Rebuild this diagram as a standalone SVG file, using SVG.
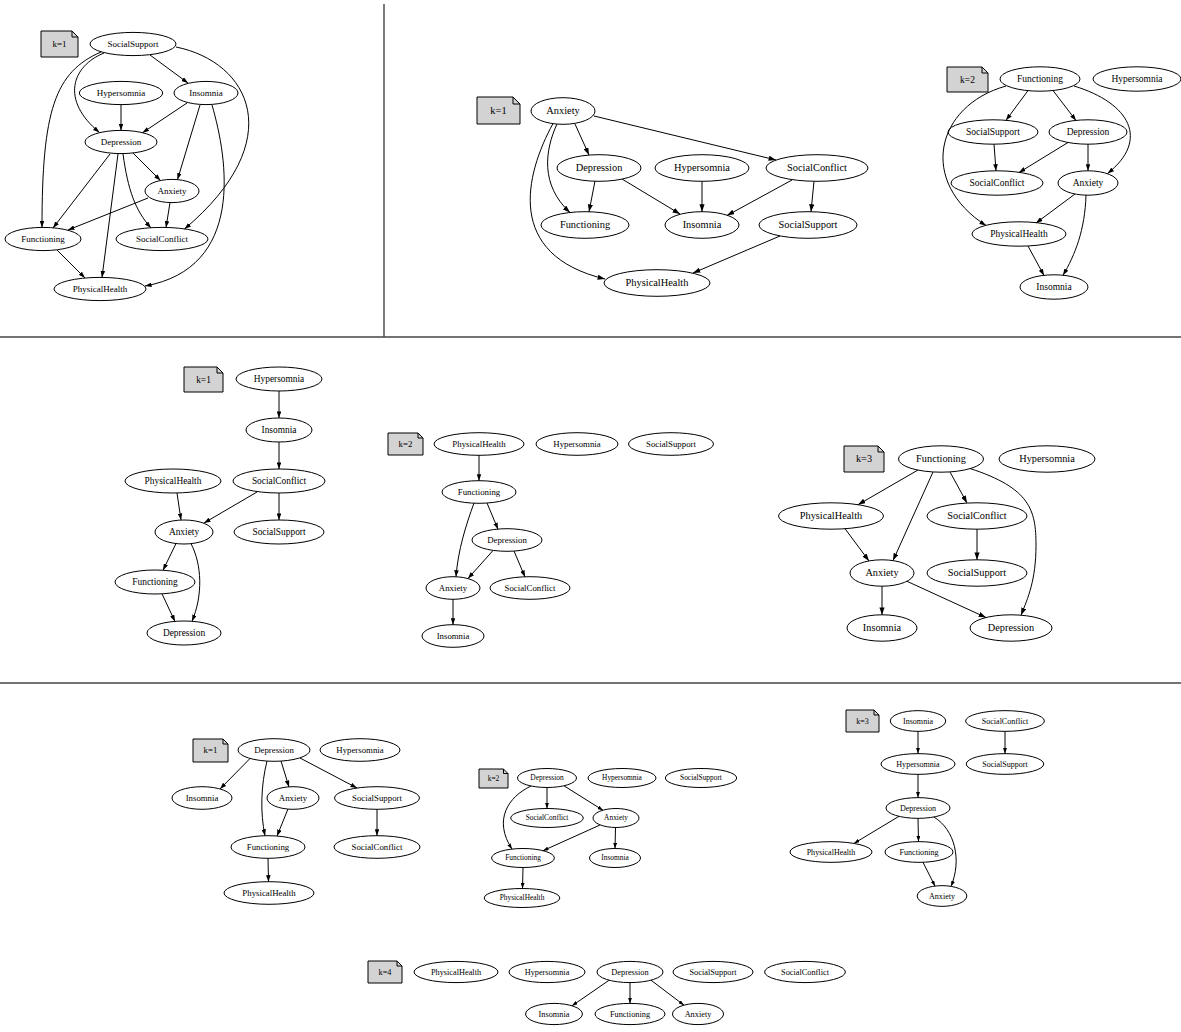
<svg xmlns="http://www.w3.org/2000/svg" width="1181" height="1032" viewBox="0 0 1181 1032">
<style>
text{font-family:"Liberation Serif","Times New Roman",serif;text-anchor:middle;fill:#000}
.n ellipse{fill:none;stroke:#000;stroke-width:1}
.e path{fill:none;stroke:#000;stroke-width:1}
.note polygon{fill:#d3d3d3;stroke:#000;stroke-width:1}
.note polyline{fill:none;stroke:#000;stroke-width:1}
.sep{stroke:#444;stroke-width:1.4}
.p1 text{font-size:9px}.p2 text{font-size:10.4px}.p3 text{font-size:9.5px}.p4 text{font-size:9.4px}.p5 text{font-size:8.8px}
.p6 text{font-size:10.3px}.p7 text{font-size:8.8px}.p8 text{font-size:7.4px}.p9 text{font-size:8.05px}.p10 text{font-size:8.3px}
.eL path{marker-end:url(#aL)}.eM path{marker-end:url(#aM)}.eS path{marker-end:url(#aS)}
</style>
<defs>
<marker id="aL" viewBox="0 0 10 7" markerWidth="7.4" markerHeight="5.2" refX="10" refY="3.5" orient="auto" markerUnits="userSpaceOnUse"><path d="M0,0 L10,3.5 L0,7 z" fill="#000"/></marker>
<marker id="aM" viewBox="0 0 10 7" markerWidth="6.6" markerHeight="4.6" refX="10" refY="3.5" orient="auto" markerUnits="userSpaceOnUse"><path d="M0,0 L10,3.5 L0,7 z" fill="#000"/></marker>
<marker id="aS" viewBox="0 0 10 7" markerWidth="5.6" markerHeight="3.9" refX="10" refY="3.5" orient="auto" markerUnits="userSpaceOnUse"><path d="M0,0 L10,3.5 L0,7 z" fill="#000"/></marker>
</defs>
<rect width="1181" height="1032" fill="#fff"/>
<g id="separators">
<line class="sep" x1="384" y1="4" x2="384" y2="337"/>
<line class="sep" x1="0" y1="337" x2="1181" y2="337"/>
<line class="sep" x1="0" y1="683" x2="1181" y2="683"/>
</g>

<!-- Panel 1 -->
<g id="panel1" class="p1">
<g id="p1-note" class="note"><polygon points="41,31 72,31 78,37 78,57 41,57"/><polyline points="72,31 72,37 78,37"/><text x="59.5" y="46.9">k=1</text></g>
<g id="p1-SocialSupport" class="n"><ellipse cx="133" cy="44" rx="43" ry="11.6"/><text x="133" y="46.9">SocialSupport</text></g>
<g id="p1-Hypersomnia" class="n"><ellipse cx="121" cy="93" rx="41.7" ry="11.6"/><text x="121" y="95.9">Hypersomnia</text></g>
<g id="p1-Insomnia" class="n"><ellipse cx="206" cy="93" rx="32" ry="11.6"/><text x="206" y="95.9">Insomnia</text></g>
<g id="p1-Depression" class="n"><ellipse cx="121" cy="142" rx="36" ry="11.6"/><text x="121" y="144.9">Depression</text></g>
<g id="p1-Anxiety" class="n"><ellipse cx="172" cy="191" rx="27" ry="11.6"/><text x="172" y="193.9">Anxiety</text></g>
<g id="p1-Functioning" class="n"><ellipse cx="43" cy="239" rx="38" ry="11.6"/><text x="43" y="241.9">Functioning</text></g>
<g id="p1-SocialConflict" class="n"><ellipse cx="162" cy="239" rx="46" ry="11.6"/><text x="162" y="241.9">SocialConflict</text></g>
<g id="p1-PhysicalHealth" class="n"><ellipse cx="100" cy="289" rx="46" ry="11.6"/><text x="100" y="291.9">PhysicalHealth</text></g>
<g id="p1-edges" class="e eM">
<path d="M150,55 L188,83"/>
<path d="M104,53 C72,66 60,100 99.5,132.5"/>
<path d="M101,52 C55,72 42,110 42,227.4"/>
<path d="M176,47 C250,62 290,140 184.5,229"/>
<path d="M121,104.6 L121,130.4"/>
<path d="M187,103 L142.5,132.7"/>
<path d="M200,105 L177.5,179.6"/>
<path d="M212,105 C228,160 245,268 145,286"/>
<path d="M133,153 L160.5,180.5"/>
<path d="M110,154 L53,228"/>
<path d="M118,154 L102,277.4"/>
<path d="M123,154 C128,190 135,210 151,228"/>
<path d="M148,198 L68,230"/>
<path d="M170,202.6 L166,227.6"/>
<path d="M57,250 L85,278"/>
</g>
</g>

<!-- Panel 2 -->
<g id="panel2" class="p2">
<g id="p2-note" class="note"><polygon points="477,97 513,97 520,104 520,124 477,124"/><polyline points="513,97 513,104 520,104"/><text x="498.5" y="113.8">k=1</text></g>
<g id="p2-Anxiety" class="n"><ellipse cx="563" cy="111" rx="32" ry="13.3"/><text x="563" y="114.3">Anxiety</text></g>
<g id="p2-Depression" class="n"><ellipse cx="599" cy="168" rx="42" ry="13.3"/><text x="599" y="171.3">Depression</text></g>
<g id="p2-Hypersomnia" class="n"><ellipse cx="702" cy="168" rx="47" ry="13.3"/><text x="702" y="171.3">Hypersomnia</text></g>
<g id="p2-SocialConflict" class="n"><ellipse cx="817" cy="168" rx="51" ry="13.3"/><text x="817" y="171.3">SocialConflict</text></g>
<g id="p2-Functioning" class="n"><ellipse cx="585" cy="225" rx="44" ry="13.3"/><text x="585" y="228.3">Functioning</text></g>
<g id="p2-Insomnia" class="n"><ellipse cx="702" cy="225" rx="37" ry="13.3"/><text x="702" y="228.3">Insomnia</text></g>
<g id="p2-SocialSupport" class="n"><ellipse cx="808" cy="225" rx="49" ry="13.3"/><text x="808" y="228.3">SocialSupport</text></g>
<g id="p2-PhysicalHealth" class="n"><ellipse cx="657" cy="283" rx="53" ry="13.3"/><text x="657" y="286.3">PhysicalHealth</text></g>
<g id="p2-edges" class="e eL">
<path d="M575,124 L589,155"/>
<path d="M594,116 L776,160"/>
<path d="M557,124 C545,150 540,185 570,212.5"/>
<path d="M553,123.5 C525,175 505,255 605,279"/>
<path d="M595,181 L589,211.8"/>
<path d="M622,179 L680,214"/>
<path d="M702,181.3 L702,211.7"/>
<path d="M792,180 L727,215.5"/>
<path d="M814,181.3 L811,211.7"/>
<path d="M780,236 L693,273"/>
</g>
</g>

<!-- Panel 3 -->
<g id="panel3" class="p3">
<g id="p3-note" class="note"><polygon points="947,67 982,67 988,73 988,92 947,92"/><polyline points="982,67 982,73 988,73"/><text x="967.5" y="82.5">k=2</text></g>
<g id="p3-Functioning" class="n"><ellipse cx="1040" cy="79" rx="40" ry="12.2"/><text x="1040" y="82">Functioning</text></g>
<g id="p3-Hypersomnia" class="n"><ellipse cx="1137" cy="79" rx="44" ry="12.2"/><text x="1137" y="82">Hypersomnia</text></g>
<g id="p3-SocialSupport" class="n"><ellipse cx="993" cy="132" rx="45" ry="12.2"/><text x="993" y="135">SocialSupport</text></g>
<g id="p3-Depression" class="n"><ellipse cx="1088" cy="132" rx="39" ry="12.2"/><text x="1088" y="135">Depression</text></g>
<g id="p3-SocialConflict" class="n"><ellipse cx="997" cy="183" rx="46" ry="12.2"/><text x="997" y="186">SocialConflict</text></g>
<g id="p3-Anxiety" class="n"><ellipse cx="1088" cy="183" rx="30" ry="12.2"/><text x="1088" y="186">Anxiety</text></g>
<g id="p3-PhysicalHealth" class="n"><ellipse cx="1019" cy="234" rx="47" ry="12.2"/><text x="1019" y="237">PhysicalHealth</text></g>
<g id="p3-Insomnia" class="n"><ellipse cx="1054" cy="287" rx="34" ry="12.2"/><text x="1054" y="290">Insomnia</text></g>
<g id="p3-edges" class="e eM">
<path d="M1028,90.6 L1006,120.3"/>
<path d="M1053,90.5 L1076,120.5"/>
<path d="M1006,86 C935,106 918,182 986,225.5"/>
<path d="M1074,86 C1130,103 1150,140 1107.5,173.5"/>
<path d="M994,144.2 L996,170.8"/>
<path d="M1068,142.5 L1019,172.5"/>
<path d="M1088,144.2 L1088,170.8"/>
<path d="M1075,194 L1036,223"/>
<path d="M1086,195.1 C1085,230 1075,255 1063,275.3"/>
<path d="M1028,246 L1044,275.5"/>
</g>
</g>

<!-- Panel 4 -->
<g id="panel4" class="p4">
<g id="p4-note" class="note"><polygon points="184,367 217,367 223,373 223,392 184,392"/><polyline points="217,367 217,373 223,373"/><text x="203.5" y="382.5">k=1</text></g>
<g id="p4-Hypersomnia" class="n"><ellipse cx="279" cy="379" rx="43" ry="12"/><text x="279" y="382">Hypersomnia</text></g>
<g id="p4-Insomnia" class="n"><ellipse cx="279" cy="430" rx="33" ry="12"/><text x="279" y="433">Insomnia</text></g>
<g id="p4-PhysicalHealth" class="n"><ellipse cx="173" cy="481" rx="48" ry="12"/><text x="173" y="484">PhysicalHealth</text></g>
<g id="p4-SocialConflict" class="n"><ellipse cx="279" cy="481" rx="46" ry="12"/><text x="279" y="484">SocialConflict</text></g>
<g id="p4-Anxiety" class="n"><ellipse cx="184" cy="532" rx="29" ry="12"/><text x="184" y="535">Anxiety</text></g>
<g id="p4-SocialSupport" class="n"><ellipse cx="279" cy="532" rx="45" ry="12"/><text x="279" y="535">SocialSupport</text></g>
<g id="p4-Functioning" class="n"><ellipse cx="155" cy="582" rx="40" ry="12"/><text x="155" y="585">Functioning</text></g>
<g id="p4-Depression" class="n"><ellipse cx="184" cy="633" rx="37" ry="12"/><text x="184" y="636">Depression</text></g>
<g id="p4-edges" class="e eM">
<path d="M279,391 L279,418"/>
<path d="M279,442 L279,469"/>
<path d="M177,493 L181,520"/>
<path d="M257,492 L204,523"/>
<path d="M279,493 L279,520"/>
<path d="M176,543.5 L163,570.3"/>
<path d="M191,543.6 C202,565 203,595 192,621.3"/>
<path d="M162,593.8 L175,621.6"/>
</g>
</g>

<!-- Panel 5 -->
<g id="panel5" class="p5">
<g id="p5-note" class="note"><polygon points="388,433 418,433 423,438 423,455 388,455"/><polyline points="418,433 418,438 423,438"/><text x="405.5" y="446.8">k=2</text></g>
<g id="p5-PhysicalHealth" class="n"><ellipse cx="479" cy="444" rx="45" ry="11.3"/><text x="479" y="446.8">PhysicalHealth</text></g>
<g id="p5-Hypersomnia" class="n"><ellipse cx="577" cy="444" rx="41" ry="11.3"/><text x="577" y="446.8">Hypersomnia</text></g>
<g id="p5-SocialSupport" class="n"><ellipse cx="671" cy="444" rx="42.5" ry="11.3"/><text x="671" y="446.8">SocialSupport</text></g>
<g id="p5-Functioning" class="n"><ellipse cx="479" cy="492" rx="37" ry="11.3"/><text x="479" y="494.8">Functioning</text></g>
<g id="p5-Depression" class="n"><ellipse cx="507" cy="540" rx="35" ry="11.3"/><text x="507" y="542.8">Depression</text></g>
<g id="p5-Anxiety" class="n"><ellipse cx="453" cy="588" rx="27" ry="11.3"/><text x="453" y="590.8">Anxiety</text></g>
<g id="p5-SocialConflict" class="n"><ellipse cx="530" cy="588" rx="40" ry="11.3"/><text x="530" y="590.8">SocialConflict</text></g>
<g id="p5-Insomnia" class="n"><ellipse cx="453" cy="636" rx="31" ry="11.3"/><text x="453" y="638.8">Insomnia</text></g>
<g id="p5-edges" class="e eM">
<path d="M479,455.3 L479,480.7"/>
<path d="M487,503 L498,529.3"/>
<path d="M474,503 C466,525 458,550 456,576.8"/>
<path d="M493,550.5 L468,578.5"/>
<path d="M514,551 L525,577"/>
<path d="M453,599.3 L453,624.7"/>
</g>
</g>

<!-- Panel 6 -->
<g id="panel6" class="p6">
<g id="p6-note" class="note"><polygon points="844,446 878,446 884,452 884,472 844,472"/><polyline points="878,446 878,452 884,452"/><text x="864" y="462.3">k=3</text></g>
<g id="p6-Functioning" class="n"><ellipse cx="941" cy="459" rx="42.5" ry="13.2"/><text x="941" y="462.3">Functioning</text></g>
<g id="p6-Hypersomnia" class="n"><ellipse cx="1047" cy="459" rx="48" ry="13.2"/><text x="1047" y="462.3">Hypersomnia</text></g>
<g id="p6-PhysicalHealth" class="n"><ellipse cx="831" cy="516" rx="52.5" ry="13.2"/><text x="831" y="519.3">PhysicalHealth</text></g>
<g id="p6-SocialConflict" class="n"><ellipse cx="977" cy="516" rx="50" ry="13.2"/><text x="977" y="519.3">SocialConflict</text></g>
<g id="p6-Anxiety" class="n"><ellipse cx="882" cy="573" rx="32" ry="13.2"/><text x="882" y="576.3">Anxiety</text></g>
<g id="p6-SocialSupport" class="n"><ellipse cx="977" cy="573" rx="50" ry="13.2"/><text x="977" y="576.3">SocialSupport</text></g>
<g id="p6-Insomnia" class="n"><ellipse cx="882" cy="628" rx="35" ry="13.2"/><text x="882" y="631.3">Insomnia</text></g>
<g id="p6-Depression" class="n"><ellipse cx="1011" cy="628" rx="41" ry="13.2"/><text x="1011" y="631.3">Depression</text></g>
<g id="p6-edges" class="e eL">
<path d="M918,470 L858,504.7"/>
<path d="M933,472 L893,560.6"/>
<path d="M950,472 L967,503"/>
<path d="M970,468.5 C1030,488 1036,510 1036,545 C1036,580 1028,598 1021,615.2"/>
<path d="M845,528.7 L869,561"/>
<path d="M977,529.2 L977,559.8"/>
<path d="M882,586.2 L882,614.8"/>
<path d="M907,581.3 L986,617.5"/>
</g>
</g>

<!-- Panel 7 -->
<g id="panel7" class="p7">
<g id="p7-note" class="note"><polygon points="193,739 223,739 228,744 228,762 193,762"/><polyline points="223,739 223,744 228,744"/><text x="210.5" y="753.3">k=1</text></g>
<g id="p7-Depression" class="n"><ellipse cx="274" cy="750" rx="36" ry="11.3"/><text x="274" y="752.8">Depression</text></g>
<g id="p7-Hypersomnia" class="n"><ellipse cx="360" cy="750" rx="40" ry="11.3"/><text x="360" y="752.8">Hypersomnia</text></g>
<g id="p7-Insomnia" class="n"><ellipse cx="202" cy="798" rx="30" ry="11.3"/><text x="202" y="800.8">Insomnia</text></g>
<g id="p7-Anxiety" class="n"><ellipse cx="293" cy="798" rx="26" ry="11.3"/><text x="293" y="800.8">Anxiety</text></g>
<g id="p7-SocialSupport" class="n"><ellipse cx="377" cy="798" rx="42.5" ry="11.3"/><text x="377" y="800.8">SocialSupport</text></g>
<g id="p7-Functioning" class="n"><ellipse cx="268" cy="847" rx="37" ry="11.3"/><text x="268" y="849.8">Functioning</text></g>
<g id="p7-SocialConflict" class="n"><ellipse cx="377" cy="847" rx="43" ry="11.3"/><text x="377" y="849.8">SocialConflict</text></g>
<g id="p7-PhysicalHealth" class="n"><ellipse cx="269" cy="893" rx="45" ry="11.3"/><text x="269" y="895.8">PhysicalHealth</text></g>
<g id="p7-edges" class="e eM">
<path d="M250,758.5 L220,789"/>
<path d="M281,761 L289,787"/>
<path d="M267,761 C261,785 260,812 265,835.8"/>
<path d="M300,758 L357,788"/>
<path d="M288,809 L277,836"/>
<path d="M377,809.3 L377,835.7"/>
<path d="M268,858.3 L268.5,881.7"/>
</g>
</g>

<!-- Panel 8 -->
<g id="panel8" class="p8">
<g id="p8-note" class="note"><polygon points="479,769 503.5,769 508,773.5 508,788 479,788"/><polyline points="503.5,769 503.5,773.5 508,773.5"/><text x="493.5" y="780.9">k=2</text></g>
<g id="p8-Depression" class="n"><ellipse cx="547" cy="778" rx="29.5" ry="9.5"/><text x="547" y="780.4">Depression</text></g>
<g id="p8-Hypersomnia" class="n"><ellipse cx="622" cy="778" rx="34" ry="9.5"/><text x="622" y="780.4">Hypersomnia</text></g>
<g id="p8-SocialSupport" class="n"><ellipse cx="701" cy="778" rx="35.7" ry="9.5"/><text x="701" y="780.4">SocialSupport</text></g>
<g id="p8-SocialConflict" class="n"><ellipse cx="547" cy="818" rx="36.3" ry="9.5"/><text x="547" y="820.4">SocialConflict</text></g>
<g id="p8-Anxiety" class="n"><ellipse cx="616" cy="818" rx="23" ry="9.5"/><text x="616" y="820.4">Anxiety</text></g>
<g id="p8-Functioning" class="n"><ellipse cx="523" cy="858" rx="31.4" ry="9.5"/><text x="523" y="860.4">Functioning</text></g>
<g id="p8-Insomnia" class="n"><ellipse cx="615" cy="858" rx="25.5" ry="9.5"/><text x="615" y="860.4">Insomnia</text></g>
<g id="p8-PhysicalHealth" class="n"><ellipse cx="522" cy="898" rx="37.8" ry="9.5"/><text x="522" y="900.4">PhysicalHealth</text></g>
<g id="p8-edges" class="e eS">
<path d="M547,787.5 L547,808.5"/>
<path d="M564,785.8 L603,810.3"/>
<path d="M531,786 C508,797 493,820 512,849.1"/>
<path d="M600,825 L543,850.7"/>
<path d="M615.5,827.5 L615,848.5"/>
<path d="M523,867.5 L522.5,888.5"/>
</g>
</g>

<!-- Panel 9 -->
<g id="panel9" class="p9">
<g id="p9-note" class="note"><polygon points="846,710 874,710 879,715 879,732 846,732"/><polyline points="874,710 874,715 879,715"/><text x="862.5" y="723.6">k=3</text></g>
<g id="p9-Insomnia" class="n"><ellipse cx="918" cy="721" rx="27.7" ry="10.35"/><text x="918" y="723.6">Insomnia</text></g>
<g id="p9-SocialConflict" class="n"><ellipse cx="1005" cy="721" rx="39.4" ry="10.35"/><text x="1005" y="723.6">SocialConflict</text></g>
<g id="p9-Hypersomnia" class="n"><ellipse cx="918" cy="764" rx="37" ry="10.35"/><text x="918" y="766.6">Hypersomnia</text></g>
<g id="p9-SocialSupport" class="n"><ellipse cx="1005" cy="764" rx="38.8" ry="10.35"/><text x="1005" y="766.6">SocialSupport</text></g>
<g id="p9-Depression" class="n"><ellipse cx="918" cy="808" rx="32" ry="10.35"/><text x="918" y="810.6">Depression</text></g>
<g id="p9-PhysicalHealth" class="n"><ellipse cx="831" cy="852" rx="41" ry="10.35"/><text x="831" y="854.6">PhysicalHealth</text></g>
<g id="p9-Functioning" class="n"><ellipse cx="919" cy="852" rx="34" ry="10.35"/><text x="919" y="854.6">Functioning</text></g>
<g id="p9-Anxiety" class="n"><ellipse cx="942" cy="896" rx="24.8" ry="10.35"/><text x="942" y="898.6">Anxiety</text></g>
<g id="p9-edges" class="e eS">
<path d="M918,731.4 L918,753.6"/>
<path d="M1005,731.4 L1005,753.6"/>
<path d="M918,774.4 L918,797.6"/>
<path d="M899,816.3 L854,843.4"/>
<path d="M918,818.4 L918.5,841.6"/>
<path d="M934,817 C955,830 962,860 951,886.4"/>
<path d="M923,862.3 L935,886.1"/>
</g>
</g>

<!-- Panel 10 -->
<g id="panel10" class="p10">
<g id="p10-note" class="note"><polygon points="368,961 397,961 402,966 402,983 368,983"/><polyline points="397,961 397,966 402,966"/><text x="385" y="974.7">k=4</text></g>
<g id="p10-PhysicalHealth" class="n"><ellipse cx="456" cy="972" rx="42" ry="10.6"/><text x="456" y="974.7">PhysicalHealth</text></g>
<g id="p10-Hypersomnia" class="n"><ellipse cx="547" cy="972" rx="38" ry="10.6"/><text x="547" y="974.7">Hypersomnia</text></g>
<g id="p10-Depression" class="n"><ellipse cx="630" cy="972" rx="33" ry="10.6"/><text x="630" y="974.7">Depression</text></g>
<g id="p10-SocialSupport" class="n"><ellipse cx="713" cy="972" rx="40" ry="10.6"/><text x="713" y="974.7">SocialSupport</text></g>
<g id="p10-SocialConflict" class="n"><ellipse cx="805" cy="972" rx="40.4" ry="10.6"/><text x="805" y="974.7">SocialConflict</text></g>
<g id="p10-Insomnia" class="n"><ellipse cx="554" cy="1014" rx="28.4" ry="10.6"/><text x="554" y="1016.7">Insomnia</text></g>
<g id="p10-Functioning" class="n"><ellipse cx="630" cy="1014" rx="35" ry="10.6"/><text x="630" y="1016.7">Functioning</text></g>
<g id="p10-Anxiety" class="n"><ellipse cx="698" cy="1014" rx="25.5" ry="10.6"/><text x="698" y="1016.7">Anxiety</text></g>
<g id="p10-edges" class="e eS">
<path d="M609,980.3 L572,1005.8"/>
<path d="M630,982.6 L630,1003.4"/>
<path d="M651,980.2 L684,1005.2"/>
</g>
</g>
</svg>
